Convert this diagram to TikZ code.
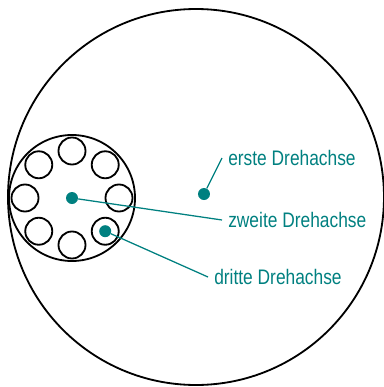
\documentclass[tikz,border=0pt]{standalone}
\usepackage{fontspec}
\usepackage{graphicx}
\setmainfont{Liberation Sans}
\usetikzlibrary{positioning}
\definecolor{axteal}{RGB}{0,128,128}
\newcommand{\axtext}[1]{\scalebox{0.95}[1.15]{#1}}

\begin{document}
\begin{tikzpicture}[x=0.25mm, y=-0.25mm,
  rim/.style={black, line width=1.3pt},
  axdot/.style={circle, fill=axteal, inner sep=0pt, minimum size=3mm},
  axlabel/.style={axteal, anchor=west, inner sep=1.5mm, font=\fontsize{13}{15}\selectfont},
  axline/.style={axteal, line width=0.9pt}]
\useasboundingbox (0,0) rectangle (384,387);
% outer wheel and inner disc
\draw[rim] (196,197) circle[radius=188];
\draw[rim] (72,198) circle[radius=63];
\foreach \a in {0,45,...,315}
  \draw[rim] (72,198) ++(\a:47) circle[radius=13.5];
% rotation axes
\node[axdot] (d1) at (204,194) {};
\node[axdot] (d2) at (72,198) {};
\node[axdot] (d3) at (105.2,231.2) {};
\node[axlabel] (l1) at (222,158) {\axtext{erste Drehachse}};
\node[axlabel] (l2) at (222,220) {\axtext{zweite Drehachse}};
\node[axlabel] (l3) at (208,277) {\axtext{dritte Drehachse}};
\draw[axline] (d1) -- (l1.west);
\draw[axline] (d2) -- (l2.west);
\draw[axline] (d3) -- (l3.west);
\end{tikzpicture}
\end{document}
